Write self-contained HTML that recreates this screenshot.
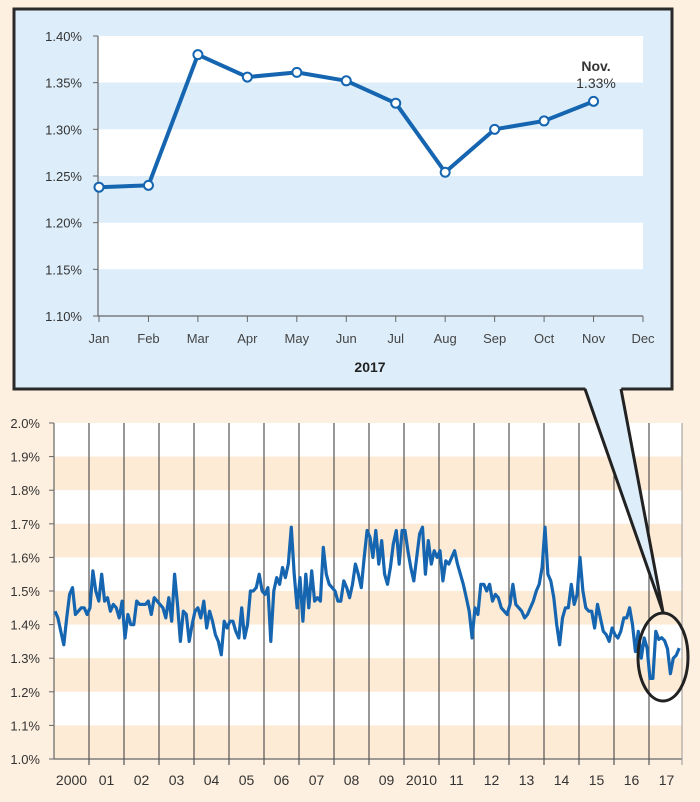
<!DOCTYPE html>
<html><head><meta charset="utf-8"><style>
html,body{margin:0;padding:0;background:#fdf0e0;}
svg{display:block;font-family:"Liberation Sans",sans-serif;}
</style></head><body>
<svg id="s" width="700" height="802" viewBox="0 0 700 802" xmlns="http://www.w3.org/2000/svg">
<rect width="700" height="802" fill="#fdf0e0"/>
<g id="bottom"></g>
<rect x="14" y="9" width="658" height="380" fill="#ddeefa" stroke="#2a2a2a" stroke-width="3"/>
<g id="top"></g>
<polygon points="585,387 621,387 663,612" fill="#ddeefa"/>
<polyline points="585,389 663,612 621,389" fill="none" stroke="#222" stroke-width="3"/>
<ellipse cx="663" cy="657" rx="25" ry="44" fill="none" stroke="#222" stroke-width="3"/>
</svg>
<script>
var NS="http://www.w3.org/2000/svg";
function el(p,t,a,txt){var e=document.createElementNS(NS,t);for(var k in a)e.setAttribute(k,a[k]);if(txt!=null)e.textContent=txt;p.appendChild(e);return e;}
var T=document.getElementById('top');
var x0=98,x1=643,yT=36,yB=316;
function ty(v){return yB-(v-1.10)/0.30*(yB-yT);}
for(var i=0;i<6;i++){var a=1.40-i*0.05;el(T,'rect',{x:x0,y:ty(a),width:x1-x0,height:ty(a-0.05)-ty(a),fill:i%2==0?'#ffffff':'#ddeefa'});}
el(T,'line',{x1:x0,y1:yT,x2:x0,y2:yB,stroke:'#666','stroke-width':1.2});
el(T,'line',{x1:x0,y1:yB,x2:x1,y2:yB,stroke:'#666','stroke-width':1.2});
for(var i=0;i<7;i++){var v=1.10+i*0.05;var y=ty(v);el(T,'line',{x1:x0-5,y1:y,x2:x0,y2:y,stroke:'#666'});el(T,'text',{x:82,y:y+5,'text-anchor':'end','font-size':13,fill:'#333'},v.toFixed(2)+'%');}
var mons=['Jan','Feb','Mar','Apr','May','Jun','Jul','Aug','Sep','Oct','Nov','Dec'];
var st=(x1-99)/11;
for(var i=0;i<12;i++){var x=99+i*st;el(T,'line',{x1:x,y1:yB,x2:x,y2:yB+6,stroke:'#666'});el(T,'text',{x:x,y:343,'text-anchor':'middle','font-size':13,fill:'#444'},mons[i]);}
var tv=[1.238,1.240,1.380,1.356,1.361,1.352,1.328,1.254,1.300,1.309,1.330];
var pts=tv.map(function(v,i){return (99+i*st)+','+ty(v);}).join(' ');
el(T,'polyline',{points:pts,fill:'none',stroke:'#1565b0','stroke-width':4,'stroke-linejoin':'round'});
tv.forEach(function(v,i){el(T,'circle',{cx:99+i*st,cy:ty(v),r:4.5,fill:'#fff',stroke:'#1565b0','stroke-width':2});});
el(T,'text',{x:596,y:71,'text-anchor':'middle','font-size':14,'font-weight':'bold',fill:'#333'},'Nov.');
el(T,'text',{x:596,y:88,'text-anchor':'middle','font-size':14,fill:'#333'},'1.33%');
el(T,'text',{x:370,y:372,'text-anchor':'middle','font-size':14,'font-weight':'bold',fill:'#222'},'2017');
var B=document.getElementById('bottom');
var bx0=54,bx1=682,by0=423,by1=759,yw=35;
function by(v){return by1-(v-1.0)*(by1-by0);}
for(var i=0;i<10;i++){var a=2.0-i*0.1;el(B,'rect',{x:bx0,y:by(a),width:bx1-bx0,height:by(a-0.1)-by(a),fill:i%2==0?'#ffffff':'#fdebd6'});}
for(var i=0;i<=10;i++){var v=1.0+i*0.1;var y=by(v);el(B,'line',{x1:bx0-5,y1:y,x2:bx0,y2:y,stroke:'#666'});el(B,'text',{x:40,y:y+5,'text-anchor':'end','font-size':13,fill:'#333'},v.toFixed(1)+'%');}
el(B,'line',{x1:bx0,y1:by0,x2:bx0,y2:by1,stroke:'#666','stroke-width':1.2});
el(B,'line',{x1:bx0,y1:by1,x2:bx1,y2:by1,stroke:'#666','stroke-width':1.2});
el(B,'line',{x1:bx1,y1:by0,x2:bx1,y2:by1+6,stroke:'#999','stroke-width':1});
var yl=['2000','01','02','03','04','05','06','07','08','09','2010','11','12','13','14','15','16','17'];
for(var i=0;i<18;i++){var x=bx0+i*yw;if(i>0)el(B,'line',{x1:x,y1:by0,x2:x,y2:by1+6,stroke:'#555','stroke-width':1.2});
el(B,'text',{x:x+yw/2,y:785,'text-anchor':'middle','font-size':14,fill:'#333'},yl[i]);}
var d=[1.44,1.42,1.38,1.34,1.42,1.49,1.51,1.43,1.44,1.45,1.45,1.43,
1.45,1.56,1.50,1.47,1.55,1.47,1.48,1.44,1.46,1.45,1.42,1.47,
1.36,1.43,1.40,1.40,1.47,1.46,1.46,1.46,1.47,1.43,1.48,1.47,
1.46,1.45,1.42,1.48,1.41,1.55,1.46,1.35,1.44,1.43,1.35,1.40,
1.44,1.45,1.42,1.47,1.39,1.44,1.41,1.37,1.35,1.31,1.41,1.39,
1.41,1.41,1.38,1.36,1.45,1.36,1.40,1.50,1.50,1.51,1.55,1.50,
1.49,1.51,1.35,1.50,1.54,1.52,1.57,1.54,1.58,1.69,1.55,1.45,
1.54,1.41,1.55,1.45,1.56,1.47,1.48,1.47,1.63,1.55,1.52,1.51,
1.50,1.47,1.47,1.53,1.51,1.48,1.52,1.58,1.55,1.51,1.60,1.68,
1.66,1.60,1.68,1.58,1.65,1.55,1.52,1.57,1.64,1.68,1.58,1.68,
1.68,1.62,1.57,1.53,1.60,1.67,1.69,1.55,1.65,1.58,1.62,1.60,
1.62,1.53,1.59,1.58,1.60,1.62,1.58,1.55,1.52,1.48,1.44,1.36,
1.45,1.43,1.52,1.52,1.50,1.52,1.47,1.49,1.48,1.45,1.44,1.43,
1.46,1.52,1.46,1.45,1.44,1.42,1.43,1.45,1.47,1.50,1.52,1.57,
1.69,1.55,1.53,1.48,1.40,1.34,1.42,1.45,1.45,1.52,1.46,1.49,
1.60,1.50,1.45,1.44,1.44,1.39,1.46,1.42,1.38,1.37,1.35,1.39,
1.37,1.36,1.38,1.42,1.42,1.45,1.40,1.32,1.38,1.30,1.36,1.33,
1.24,1.24,1.38,1.356,1.361,1.352,1.328,1.254,1.30,1.309,1.33];
var bp=d.map(function(v,i){return (bx0+1+i*yw/12).toFixed(1)+','+by(v).toFixed(1);}).join(' ');
el(B,'polyline',{points:bp,fill:'none',stroke:'#1565b0','stroke-width':3.2,'stroke-linejoin':'round'});
</script>
</body></html>
